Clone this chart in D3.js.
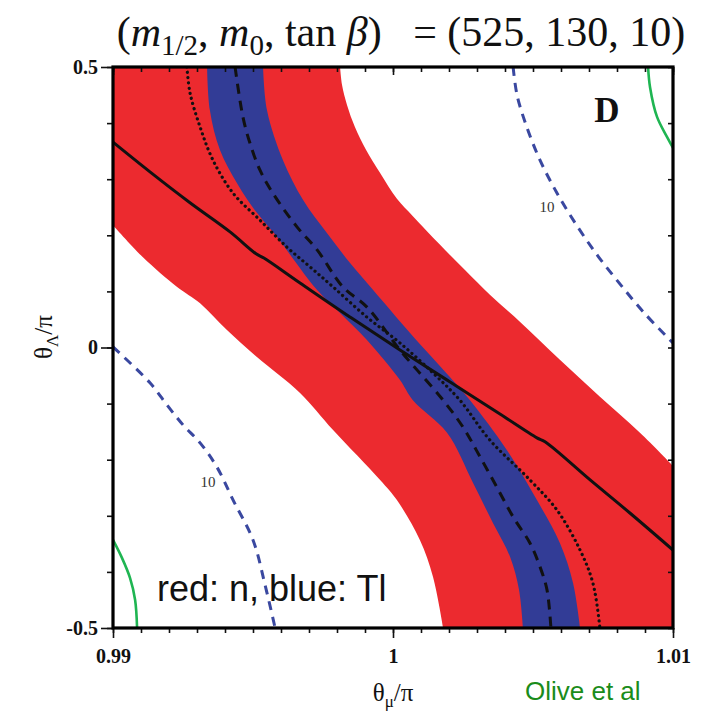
<!DOCTYPE html>
<html><head><meta charset="utf-8">
<script src="https://cdn.jsdelivr.net/npm/d3@7"></script>
<style>body{margin:0;background:#fff}svg{display:block}</style>
</head><body>
<svg id="chart" width="702" height="712"></svg>
<script>
// ---- data (x = theta_mu/pi, y = theta_Lambda/pi) ----
const redOuter = [[0.99811,0.5],[0.99818,0.468],[0.99836,0.432],[0.99864,0.393],[0.99904,0.352],[0.99954,0.311],[1.00014,0.265],[1.00071,0.234],[1.00168,0.183],[1.00257,0.138],[1.00346,0.094],[1.00454,0.0455],[1.00596,-0.022],[1.00739,-0.088],[1.00882,-0.152],[1.01,-0.211]];
const redInner = [[0.99,0.218],[0.99107,0.161],[0.99229,0.108],[0.99311,0.079],[0.99407,0.031],[0.99514,-0.017],[0.99668,-0.081],[0.99786,-0.147],[0.99954,-0.236],[1.00014,-0.272],[1.00096,-0.343],[1.00143,-0.409],[1.00179,-0.5]];
const blueLeft = [[0.99336,0.5],[0.99346,0.423],[0.99382,0.352],[0.99443,0.293],[0.99514,0.240],[0.99586,0.197],[0.99639,0.161],[0.99729,0.1025],[0.99811,0.0615],[0.99907,0.0134],[1.00025,-0.058],[1.00071,-0.094],[1.00193,-0.152],[1.00286,-0.2415],[1.00357,-0.313],[1.00418,-0.373],[1.0045,-0.432],[1.00464,-0.5]];
const blueRight = [[0.99536,0.5],[0.9955,0.423],[0.99607,0.334],[0.99679,0.263],[0.99764,0.204],[0.99846,0.151],[0.99929,0.1025],[1.00061,0.026],[1.00204,-0.053],[1.00275,-0.094],[1.00407,-0.183],[1.00514,-0.272],[1.00596,-0.3485],[1.00643,-0.420],[1.00668,-0.5]];
const tlDashed = [[0.99436,0.5],[0.99464,0.411],[0.99489,0.3645],[0.99525,0.316],[0.99571,0.275],[0.99657,0.215],[0.99729,0.174],[0.99821,0.108],[0.99907,0.072],[1.00025,-0.0045],[1.00179,-0.094],[1.0025,-0.142],[1.00311,-0.195],[1.00371,-0.249],[1.00429,-0.302],[1.00489,-0.3485],[1.00525,-0.391],[1.0055,-0.432],[1.00564,-0.5]];
const nDotted = [[0.99264,0.5],[0.99275,0.454],[0.99311,0.393],[0.99357,0.334],[0.99429,0.275],[0.99525,0.227],[0.99621,0.179],[0.99704,0.1435],[0.99786,0.108],[0.99907,0.054],[1.00025,0.008],[1.00143,-0.0455],[1.00239,-0.094],[1.00346,-0.165],[1.00489,-0.236],[1.00586,-0.290],[1.00668,-0.361],[1.00714,-0.420],[1.00739,-0.5]];
const solidCurve = [[0.99,0.366],[0.99132,0.313],[0.99275,0.258],[0.99418,0.206],[0.99511,0.167],[0.99539,0.1595],[0.99668,0.115],[0.99846,0.0544],[1.00025,-0.0045],[1.00204,-0.0615],[1.00382,-0.1185],[1.00514,-0.161],[1.00543,-0.168],[1.00704,-0.236],[1.00846,-0.295],[1.01,-0.361]];
const tl10Low = [[0.99,0.001],[0.99132,-0.063],[0.99193,-0.1025],[0.9925,-0.138],[0.99311,-0.170],[0.99371,-0.213],[0.99429,-0.272],[0.995,-0.343],[0.99543,-0.423],[0.99579,-0.5]];
const tl10High = [[1.00429,0.5],[1.00443,0.450],[1.00475,0.397],[1.00525,0.334],[1.00586,0.275],[1.00657,0.217],[1.00732,0.163],[1.00811,0.113],[1.009,0.060],[1.01,0.008]];
const greenHigh = [[1.00911,0.5],[1.00918,0.464],[1.00943,0.411],[1.00979,0.375],[1.01,0.356]];
const greenLow = [[0.99,-0.343],[0.99032,-0.375],[0.99061,-0.411],[0.99079,-0.450],[0.99086,-0.5]];
const contourLabels = [{x:0.99339,y:-0.240,t:"10"},{x:1.0055,y:0.250,t:"10"}];
const xTickVals = [0.99, 1, 1.01];
const xTickLabels = ["0.99", "1", "1.01"];
const yTickVals = [-0.5, 0, 0.5];
const yTickLabels = ["-0.5", "0", "0.5"];

// ---- layout ----
const svg = d3.select("#chart");
const L = 113, R = 673, T = 67, B = 628;
const x = d3.scaleLinear().domain([0.99, 1.01]).range([L, R]);
const y = d3.scaleLinear().domain([-0.5, 0.5]).range([B, T]);
const RED = "#ec2a2f", BLUE = "#323c96", CBLUE = "#3a48a0", GREEN = "#1fb552";

svg.append("defs").append("clipPath").attr("id","clip")
  .append("rect").attr("x",L).attr("y",T).attr("width",R-L).attr("height",B-T);
const g = svg.append("g").attr("clip-path","url(#clip)");

const smooth = d3.line().x(d=>x(d[0])).y(d=>y(d[1])).curve(d3.curveCatmullRom.alpha(0.5));
const cont = pts => smooth(pts).replace(/^M/, "L");
const pt = d => `${x(d[0])},${y(d[1])}`;

// red band: plot corner -> outer boundary -> opposite corner -> inner boundary back
const redPath = `M${pt([0.99,0.5])}` + cont(redOuter) + `L${pt([1.01,-0.5])}` + cont(redInner.slice().reverse()) + "Z";
g.append("path").attr("d", redPath).attr("fill",RED);
const bluePath = smooth(blueLeft) + cont(blueRight.slice().reverse()) + "Z";
g.append("path").attr("d", bluePath).attr("fill",BLUE);

g.append("path").attr("d", smooth(tlDashed)).attr("fill","none").attr("stroke","#111")
  .attr("stroke-width",3).attr("stroke-dasharray","10,7");
g.append("path").attr("d", smooth(nDotted)).attr("fill","none").attr("stroke","#111")
  .attr("stroke-width",3.2).attr("stroke-linecap","round").attr("stroke-dasharray","0.1,5.2");
g.append("path").attr("d", smooth(solidCurve)).attr("fill","none").attr("stroke","#111")
  .attr("stroke-width",3);
[tl10Low, tl10High].forEach(c => g.append("path").attr("d", smooth(c)).attr("fill","none")
  .attr("stroke",CBLUE).attr("stroke-width",3).attr("stroke-dasharray","9,7"));
[greenHigh, greenLow].forEach(c => g.append("path").attr("d", smooth(c)).attr("fill","none")
  .attr("stroke",GREEN).attr("stroke-width",2.6));

g.selectAll("text.cl").data(contourLabels).enter().append("text")
  .attr("x",d=>x(d.x)).attr("y",d=>y(d.y)+5).attr("text-anchor","middle")
  .attr("font-family","Liberation Serif").attr("font-size",15).attr("fill","#333").text(d=>d.t);

// ---- axes ----
const xMinor = d3.range(0, 21).map(i => 0.99 + i*0.001);
const yMinor = d3.range(0, 11).map(i => -0.5 + i*0.1);
const tickFont = sel => sel.selectAll("text").attr("font-family","Liberation Serif")
  .attr("font-weight","bold").attr("font-size",20).attr("fill","#111");
const clean = sel => { sel.select(".domain").remove(); sel.selectAll("line").attr("stroke","#111").attr("stroke-width",1.6); };

svg.append("g").attr("transform",`translate(0,${B})`)
  .call(d3.axisBottom(x).tickValues(xMinor).tickSize(5).tickFormat("")).call(clean);
svg.append("g").attr("transform",`translate(0,${B})`)
  .call(d3.axisBottom(x).tickValues(xTickVals).tickSize(10).tickPadding(11)
    .tickFormat((d,i)=>xTickLabels[i]))
  .call(clean).call(tickFont);
svg.append("g").attr("transform",`translate(0,${T})`)
  .call(d3.axisTop(x).tickValues(xMinor).tickSize(-5).tickFormat("")).call(clean);
svg.append("g").attr("transform",`translate(0,${T})`)
  .call(d3.axisTop(x).tickValues(xTickVals).tickSize(-8).tickFormat("")).call(clean);
svg.append("g").attr("transform",`translate(${L},0)`)
  .call(d3.axisLeft(y).tickValues(yMinor).tickSize(6).tickFormat("")).call(clean);
svg.append("g").attr("transform",`translate(${L},0)`)
  .call(d3.axisLeft(y).tickValues(yTickVals).tickSize(12).tickPadding(3)
    .tickFormat((d,i)=>yTickLabels[i]))
  .call(clean).call(tickFont);
svg.append("g").attr("transform",`translate(${R},0)`)
  .call(d3.axisRight(y).tickValues(yMinor).tickSize(-5).tickFormat("")).call(clean);

svg.append("rect").attr("x",L).attr("y",T).attr("width",R-L).attr("height",B-T)
  .attr("fill","none").attr("stroke","#000").attr("stroke-width",3.2);

// ---- texts ----
svg.append("text").attr("x",607).attr("y",122).attr("text-anchor","middle")
  .attr("font-family","Liberation Serif").attr("font-weight","bold").attr("font-size",35)
  .attr("fill","#111").text("D");

svg.append("text").attr("x",157).attr("y",601)
  .attr("font-family","Liberation Sans, Arial").attr("font-size",36).attr("fill","#111")
  .text("red: n, blue: Tl");

svg.append("text").attr("x",525).attr("y",700)
  .attr("font-family","Liberation Sans, Arial").attr("font-size",26).attr("fill","#1a8c1a")
  .text("Olive et al");

const xt = svg.append("text").attr("x",393).attr("y",701).attr("text-anchor","middle")
  .attr("font-family","Liberation Serif").attr("font-size",25).attr("fill","#111");
xt.append("tspan").text("θ");
xt.append("tspan").attr("font-size",17).attr("dy",6).text("μ");
xt.append("tspan").attr("dy",-6).text("/π");

const yt = svg.append("text").attr("transform","translate(52,337) rotate(-90)").attr("text-anchor","middle")
  .attr("font-family","Liberation Serif").attr("font-size",25).attr("fill","#111");
yt.append("tspan").text("θ");
yt.append("tspan").attr("font-size",17).attr("dy",6).text("Λ");
yt.append("tspan").attr("dy",-6).text("/π");

const tt = svg.append("text").attr("x",401).attr("y",46).attr("text-anchor","middle")
  .attr("font-family","Liberation Serif").attr("font-size",42).attr("fill","#111");
tt.append("tspan").text("(");
tt.append("tspan").attr("font-style","italic").text("m");
tt.append("tspan").attr("font-size",29).attr("dy",9).text("1/2");
tt.append("tspan").attr("dy",-9).text(", ");
tt.append("tspan").attr("font-style","italic").text("m");
tt.append("tspan").attr("font-size",29).attr("dy",9).text("0");
tt.append("tspan").attr("dy",-9).text(", tan ");
tt.append("tspan").attr("font-style","italic").text("β");
tt.append("tspan").text(")\u2002 = (525, 130, 10)");
</script>
</body></html>
